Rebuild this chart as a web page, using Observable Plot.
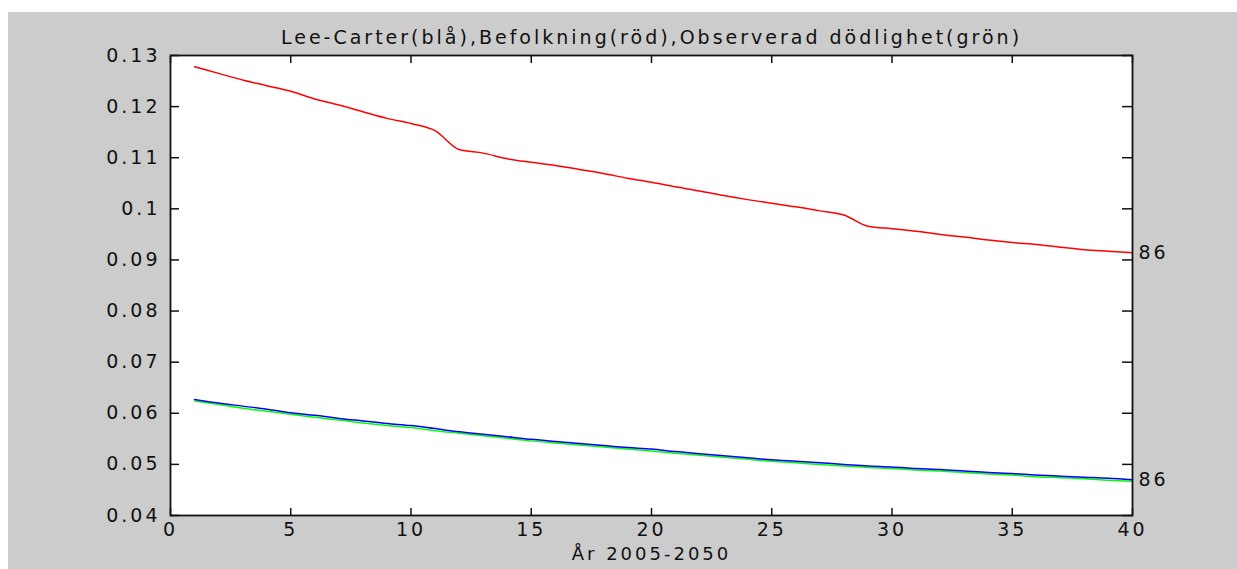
<!DOCTYPE html>
<html><head><meta charset="utf-8">
<script src="https://cdn.jsdelivr.net/npm/d3@7"></script>
<script src="https://cdn.jsdelivr.net/npm/@observablehq/plot@0.6"></script>
<style>
html,body{margin:0;padding:0;background:#fff;overflow:hidden;width:1237px;height:569px;}
#wrap{position:relative;width:1237px;height:569px;}
#bg{position:absolute;left:8px;top:12px;width:1229px;height:557px;background:#cccccc;}
#chart{position:absolute;left:0;top:0;}
#chart svg{display:block;}
</style></head><body>
<div id="wrap"><div id="bg"></div><div id="chart"></div></div>
<script>
const years = [1,2,3,4,5,6,7,8,9,10,11,12,13,14,15,16,17,18,19,20,21,22,23,24,25,26,27,28,29,30,31,32,33,34,35,36,37,38,39,40];
const befolkning = [0.1278,0.1265,0.1252,0.1241,0.1230,0.1215,0.1203,0.1190,0.1177,0.1167,0.1153,0.1116,0.1109,0.1098,0.1091,0.1085,0.1077,0.1069,0.1060,0.1052,0.1043,0.1035,0.1026,0.1018,0.1011,0.1004,0.0996,0.0988,0.0966,0.0961,0.0956,0.0950,0.0945,0.0939,0.0934,0.0930,0.0925,0.0920,0.0917,0.0914];
const leeCarter = [0.0627,0.0620,0.0614,0.0608,0.0601,0.0596,0.0590,0.0585,0.0580,0.0576,0.0570,0.0564,0.0559,0.0554,0.0549,0.0545,0.0541,0.0537,0.0533,0.0530,0.0525,0.0521,0.0517,0.0513,0.0509,0.0506,0.0503,0.0500,0.0497,0.0495,0.0492,0.0490,0.0487,0.0484,0.0482,0.0479,0.0477,0.0475,0.0473,0.0470];
const observerad = [0.0624,0.0617,0.0610,0.0604,0.0598,0.0592,0.0587,0.0581,0.0576,0.0572,0.0566,0.0561,0.0556,0.0551,0.0546,0.0542,0.0538,0.0534,0.0530,0.0526,0.0522,0.0518,0.0514,0.0510,0.0506,0.0503,0.0500,0.0497,0.0494,0.0492,0.0489,0.0487,0.0484,0.0481,0.0479,0.0476,0.0474,0.0472,0.0469,0.0467];
const xTicks = [0,5,10,15,20,25,30,35,40];
const xTickLabels = ["0","5","10","15","20","25","30","35","40"];
const yTicks = [0.04,0.05,0.06,0.07,0.08,0.09,0.10,0.11,0.12,0.13];
const yTickLabels = ["0.04","0.05","0.06","0.07","0.08","0.09","0.1","0.11","0.12","0.13"];
const seriesNames = ["Befolkning","Observerad","Lee-Carter"];
const seriesColors = ["#ff0000","#00ff00","#0000ff"];
const titleText = "Lee-Carter(blå),Befolkning(röd),Observerad dödlighet(grön)";
const xLabelText = "År 2005-2050";
const endLabelText = "86";

const seriesValues = [befolkning, observerad, leeCarter];
const rows = seriesNames.flatMap((s, k) => years.map((yr, i) => ({series: s, x: yr, v: seriesValues[k][i]})));
const ends = [
  {x: years[years.length-1], v: befolkning[befolkning.length-1]},
  {x: years[years.length-1], v: leeCarter[leeCarter.length-1]}
];
const font = {fontFamily: "'DejaVu Sans', sans-serif", fontSize: "19px", letterSpacing: "3px", color: "#111", background: "transparent", overflow: "visible"};

const chart = Plot.plot({
  width: 1237, height: 569,
  marginLeft: 170, marginRight: 105, marginTop: 55, marginBottom: 54,
  style: font,
  x: {domain: [0, 40]},
  y: {domain: [0.04, 0.13]},
  color: {domain: seriesNames, range: seriesColors},
  marks: [
    Plot.frame({fill: "white", stroke: "none"}),
    Plot.line(rows, {x: "x", y: "v", z: "series", stroke: "series", strokeWidth: 1.5, curve: "monotone-x"}),
    Plot.frame({stroke: "#111", strokeWidth: 1.8}),
    Plot.axisX(xTicks, {anchor: "bottom", tickSize: -7, tickPadding: 14, strokeWidth: 1.5, stroke: "#111", tickFormat: d => xTickLabels[xTicks.indexOf(d)], label: null}),
    Plot.axisX(xTicks, {anchor: "top", tickSize: -7, strokeWidth: 1.5, stroke: "#111", tickFormat: null, text: null, label: null}),
    Plot.axisY(yTicks, {anchor: "left", tickSize: -9, tickPadding: 19, strokeWidth: 1.5, stroke: "#111", tickFormat: d => yTickLabels[yTicks.indexOf(d)], label: null}),
    Plot.axisY(yTicks, {anchor: "right", tickSize: -11, strokeWidth: 1.5, stroke: "#111", tickFormat: null, text: null, label: null}),
    Plot.text(ends, {x: "x", y: "v", text: () => endLabelText, dx: 6, textAnchor: "start", lineAnchor: "middle", fill: "#111"}),
    Plot.text([titleText], {frameAnchor: "top", dy: -12, lineAnchor: "bottom", fill: "#111"}),
    Plot.text([xLabelText], {frameAnchor: "bottom", dy: 44, lineAnchor: "bottom", fill: "#111", fontSize: 18})
  ]
});
document.getElementById("chart").append(chart);
</script>
</body></html>
